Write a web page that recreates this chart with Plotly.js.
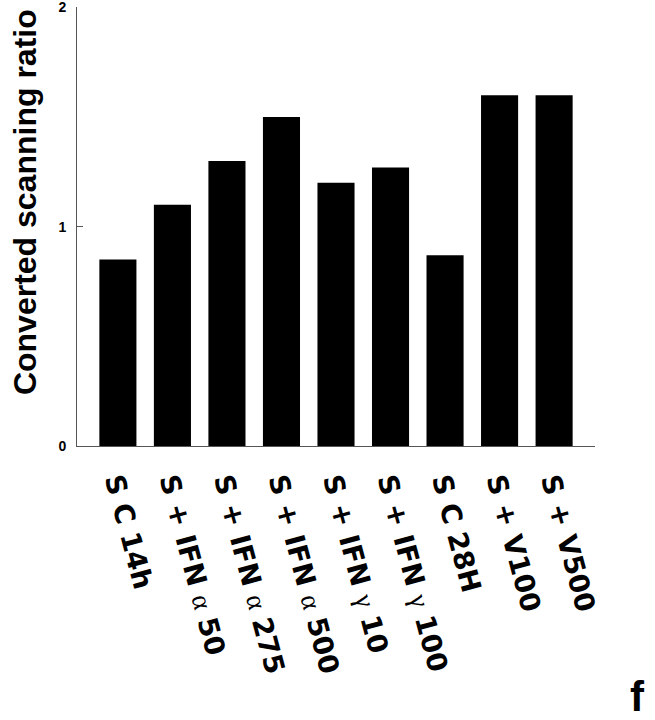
<!DOCTYPE html>
<html>
<head>
<meta charset="utf-8">
<script src="https://cdn.plot.ly/plotly-3.0.1.min.js"></script>
<style>html,body{margin:0;padding:0;background:#fff;}#chart{width:655px;height:720px;}</style>
</head>
<body>
<div id="chart"></div>
<script>
const greek = (g) => "<span style=\"font-family:'Liberation Serif';font-weight:normal\">" + g + "</span>";
const categories = [
  "S C 14h",
  "S + IFN " + greek("α") + " 50",
  "S + IFN " + greek("α") + " 275",
  "S + IFN " + greek("α") + " 500",
  "S + IFN " + greek("γ") + " 10",
  "S + IFN " + greek("γ") + " 100",
  "S C 28H",
  "S + V100",
  "S + V500"
];
const ratios = [0.85, 1.10, 1.30, 1.50, 1.20, 1.27, 0.87, 1.60, 1.60];
const yTicks = [0, 1, 2];
const yTickText = ["0", "1", "2"];
const yTitle = "Converted scanning ratio";
const panelLabel = "f";

const trace = {
  type: "bar",
  x: categories.map((c, i) => i),
  y: ratios,
  marker: {color: "#000000", line: {width: 0}},
  hoverinfo: "none"
};

const layout = {
  width: 655,
  height: 720,
  margin: {l: 77, r: 60, t: 7, b: 274},
  paper_bgcolor: "#ffffff",
  plot_bgcolor: "#ffffff",
  showlegend: false,
  bargap: 0.32,
  font: {family: "Liberation Sans, Arial, sans-serif", color: "#000"},
  xaxis: {
    range: [-0.75, 8.75],
    tickmode: "array",
    tickvals: categories.map((c, i) => i),
    ticktext: categories,
    tickangle: 75,
    tickfont: {size: 27.5, family: "DejaVu Sans", weight: "bold", color: "#000"},
    ticks: "",
    showline: true,
    linecolor: "#555",
    linewidth: 1,
    showgrid: false,
    zeroline: false,
    automargin: false,
    ticklabelstandoff: 8,
    ticklabeloverflow: "allow",
    fixedrange: true
  },
  yaxis: {
    range: [0, 2.002],
    tickmode: "array",
    tickvals: yTicks,
    ticktext: yTickText,
    tickfont: {size: 14, family: "Liberation Sans", weight: "bold", color: "#000"},
    ticks: "inside",
    ticklen: 6,
    tickcolor: "#555",
    showline: true,
    linecolor: "#555",
    linewidth: 1,
    showgrid: false,
    zeroline: false,
    automargin: false,
    ticklabelstandoff: 7,
    ticklabeloverflow: "allow",
    fixedrange: true
  },
  annotations: [{
    text: yTitle,
    xref: "paper", yref: "paper",
    x: -0.100, y: 0.556,
    xanchor: "center", yanchor: "middle",
    textangle: -90,
    showarrow: false,
    font: {size: 32, family: "Liberation Sans", weight: "bold", color: "#000"}
  }, {
    text: panelLabel,
    xref: "paper", yref: "paper",
    x: 1.082, y: -0.57,
    xanchor: "center", yanchor: "middle",
    showarrow: false,
    font: {size: 42, family: "Liberation Sans", weight: "bold", color: "#000"}
  }]
};

Plotly.newPlot("chart", [trace], layout, {displayModeBar: false, staticPlot: true});
</script>
</body>
</html>
